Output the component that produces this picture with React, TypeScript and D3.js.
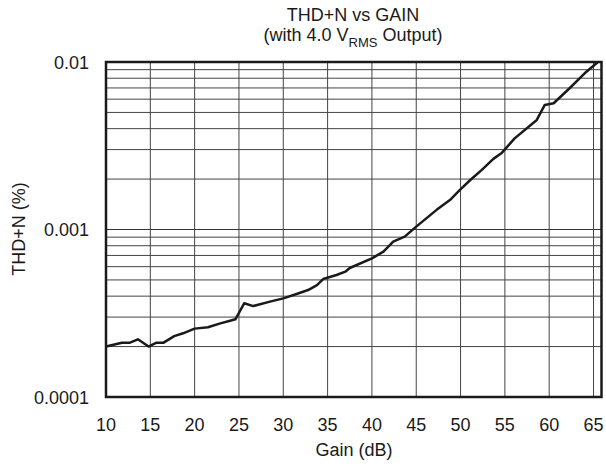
import React from "react";
import * as d3 from "d3";

const gain = [10, 11.8, 12.7, 13.6, 14.8, 15.7, 16.5, 17.7, 18.7, 20.0, 21.5, 22.9, 24.0, 24.6, 25.6, 26.6, 28.5, 30.0, 31.5, 32.8, 33.8, 34.5, 36.0, 37.0, 37.5, 40.0, 41.3, 42.4, 43.7, 45.0, 47.3, 48.8, 49.9, 51.1, 52.4, 53.7, 54.6, 56.1, 58.6, 59.5, 60.5, 62.3, 64.0, 65.5];
const thdn = [0.0002, 0.000211, 0.000211, 0.000221, 0.0002, 0.000211, 0.000211, 0.000231, 0.00024, 0.000256, 0.000261, 0.000275, 0.000285, 0.000291, 0.000363, 0.000349, 0.000371, 0.000388, 0.000412, 0.000435, 0.000466, 0.000506, 0.000535, 0.00056, 0.000589, 0.000673, 0.000737, 0.000846, 0.000906, 0.00104, 0.00131, 0.0015, 0.00172, 0.001975, 0.00227, 0.00264, 0.00285, 0.0035, 0.00451, 0.00554, 0.00567, 0.00697, 0.00856, 0.01];
const xTicks = [10, 15, 20, 25, 30, 35, 40, 45, 50, 55, 60, 65];
const yTicks = [0.0001, 0.001, 0.01];
const yTickLabels = ["0.0001", "0.001", "0.01"];

const W = 606, H = 466;
const L = 106, R = 601.5, T = 62, B = 397;
const FONT = "'Liberation Sans', Arial, Helvetica, sans-serif";

export default function App() {
  const x = d3.scaleLinear().domain([10, 65.9]).range([L, R]);
  const y = d3.scaleLog().domain([0.0001, 0.01]).range([B, T]);
  const minor: number[] = [];
  [0.0001, 0.001].forEach((d) => {
    for (let k = 2; k <= 9; k++) minor.push(d * k);
  });
  const line = d3
    .line<number>()
    .x((_, i) => x(gain[i]))
    .y((d) => y(d));
  return (
    <svg width={W} height={H} style={{ position: "absolute", left: 0, top: 0, background: "#fff" }}>
      <rect width={W} height={H} fill="#fff" />
      {minor.map((d, i) => (
        <line key={"m" + i} x1={L} x2={R} y1={y(d)} y2={y(d)} stroke="#444" strokeWidth={1} />
      ))}
      {yTicks.map((d, i) => (
        <line key={"y" + i} x1={L} x2={R} y1={y(d)} y2={y(d)} stroke="#333" strokeWidth={1} />
      ))}
      {xTicks.slice(1).map((d, i) => (
        <line key={"x" + i} x1={x(d)} x2={x(d)} y1={T} y2={B} stroke="#444" strokeWidth={1} />
      ))}
      <path d={line(thdn) || ""} fill="none" stroke="#1a1a1a" strokeWidth={2.5} strokeLinejoin="round" />
      <rect x={L} y={T} width={R - L} height={B - T} fill="none" stroke="#1a1a1a" strokeWidth={2.5} />
      <g fontFamily={FONT} fontSize={18} fill="#1a1a1a">
        {xTicks.map((d, i) => (
          <text key={"xl" + i} x={x(d)} y={431} textAnchor="middle">{d}</text>
        ))}
        {yTicks.map((d, i) => (
          <text key={"yl" + i} x={89} y={y(d) + 6.5} textAnchor="end">{yTickLabels[i]}</text>
        ))}
        <text x={354} y={456} textAnchor="middle">Gain (dB)</text>
        <text transform="translate(25,229) rotate(-90)" textAnchor="middle">THD+N (%)</text>
        <text x={353} y={21} textAnchor="middle">THD+N vs GAIN</text>
        <text x={353} y={41} textAnchor="middle">
          (with 4.0 V<tspan fontSize={13} dy={6}>RMS</tspan><tspan dy={-6}> Output)</tspan>
        </text>
      </g>
    </svg>
  );
}
